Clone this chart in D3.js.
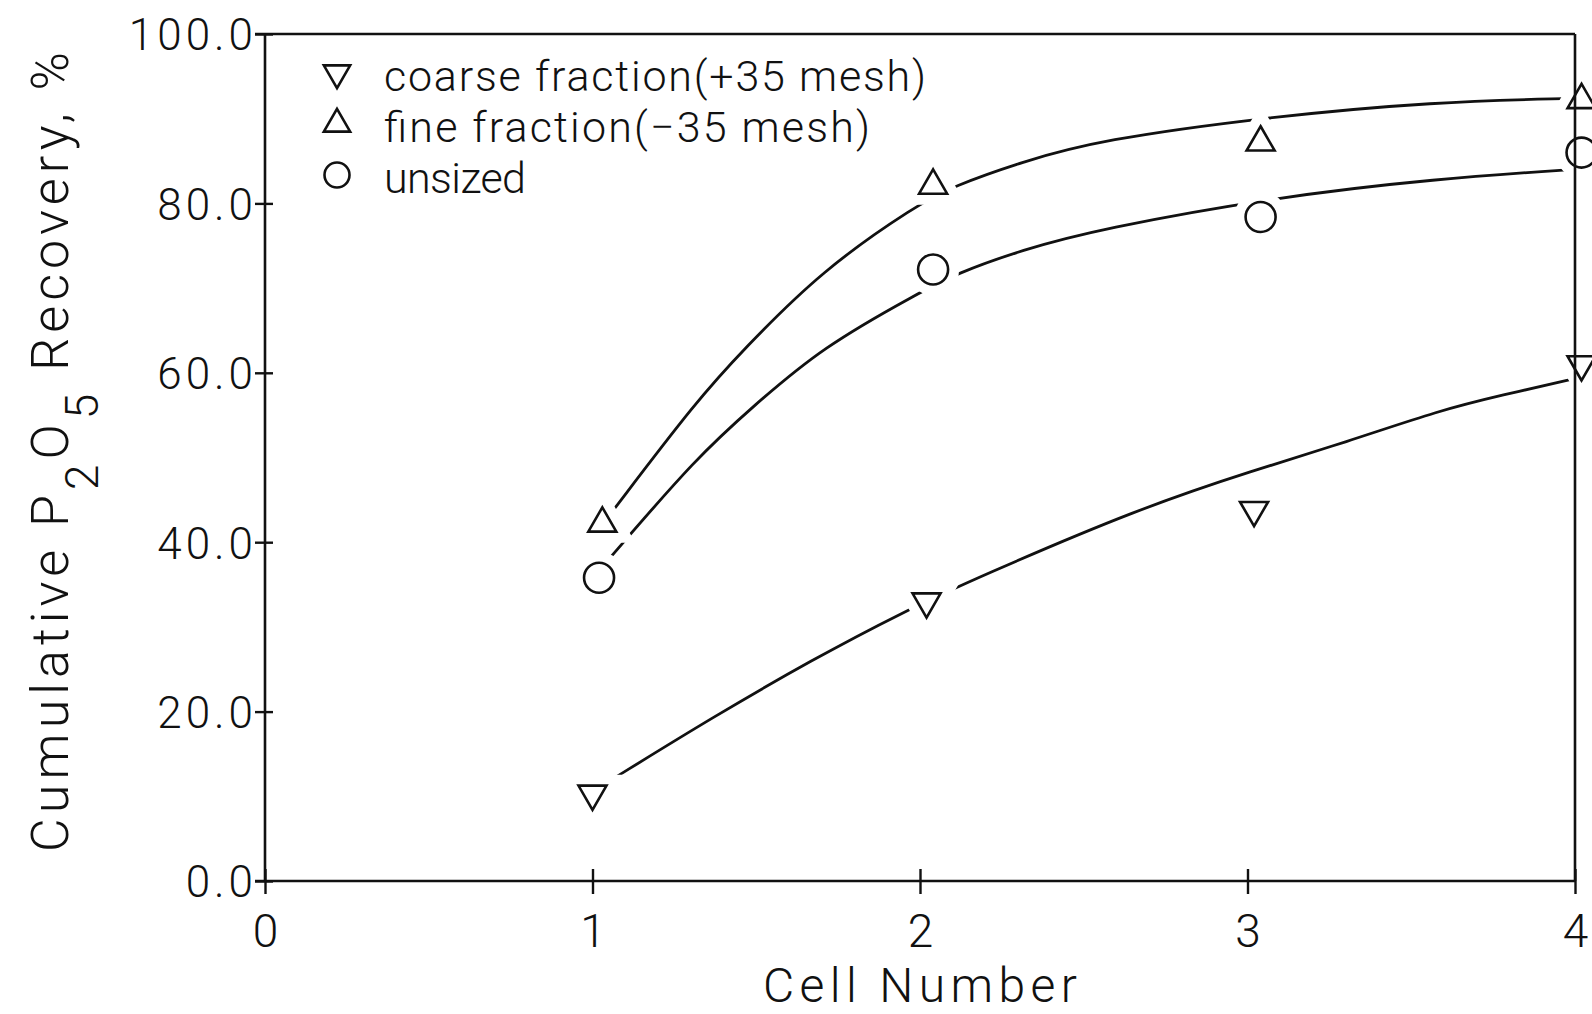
<!DOCTYPE html>
<html>
<head>
<meta charset="utf-8">
<script src="https://cdn.jsdelivr.net/npm/d3@7"></script>
<style>
  html, body { margin: 0; padding: 0; background: #fff; }
  svg { display: block; }
  text { font-family: Roboto, "Open Sans", sans-serif; font-weight: 300; fill: #111; }
</style>
</head>
<body>
<svg id="chart" width="1592" height="1014"></svg>
<script>
// measured cell positions (markers sit a touch right of the ticks in the scan)
var coarseCell = [1.0, 2.02, 3.02, 4.02];
var coarseRec = [10.3, 33.0, 43.8, 61.0];
var fineCell = [1.03, 2.04, 3.04, 4.02];
var fineRec = [42.2, 82.1, 87.2, 92.2];
var unsizedCell = [1.02, 2.04, 3.04, 4.02];
var unsizedRec = [35.8, 72.2, 78.4, 86.0];

// hand-drawn fit curves
var coarseFitX = [1.06, 1.37, 1.67, 1.95, 2.18, 2.67, 3.02, 3.30, 3.59, 3.77, 4.02];
var coarseFitY = [12.0, 19.4, 26.1, 31.8, 35.9, 44.0, 48.5, 51.8, 55.6, 57.3, 59.5];
var fineFitX = [1.06, 1.32, 1.46, 1.70, 1.99, 2.10, 2.31, 2.55, 3.06, 3.57, 4.0];
var fineFitY = [43.6, 56.8, 62.7, 72.1, 79.8, 82.0, 84.9, 87.5, 90.2, 92.0, 92.4];
var unsizedFitX = [1.05, 1.32, 1.49, 1.70, 2.0, 2.11, 2.31, 2.55, 3.08, 3.57, 4.03];
var unsizedFitY = [38.0, 50.1, 56.0, 63.0, 69.5, 71.7, 74.5, 77.0, 80.7, 82.9, 84.1];

var xTicks = [0, 1, 2, 3, 4];
var yTicks = [0, 20, 40, 60, 80, 100];
var legendLabels = ["coarse fraction(+35 mesh)", "fine fraction(\u221235 mesh)", "unsized"];

var svg = d3.select('#chart');
svg.append('rect').attr('width', 1592).attr('height', 1014).attr('fill', '#fff');

var x = d3.scaleLinear().domain([0, 4]).range([265, 1575]);
var y = d3.scaleLinear().domain([0, 100]).range([881, 34]);

var ink = '#111';
var font = 'Roboto, "Open Sans", sans-serif';

// frame
var frame = svg.append('g').attr('stroke', ink).attr('stroke-width', 2.6).attr('fill', 'none');
frame.append('line').attr('x1', x(0) - 10).attr('x2', x(4)).attr('y1', y(100)).attr('y2', y(100));
frame.append('line').attr('x1', x(0)).attr('x2', x(0)).attr('y1', y(100)).attr('y2', y(0));
frame.append('line').attr('x1', x(0) - 10).attr('x2', x(4)).attr('y1', y(0)).attr('y2', y(0));

// y axis
var yAxis = svg.append('g')
  .attr('transform', 'translate(' + x(0) + ',0)')
  .call(d3.axisLeft(y).tickValues(yTicks).tickSize(10).tickFormat(d3.format('.1f')));
yAxis.select('.domain').remove();
yAxis.selectAll('.tick line').attr('x2', -10).attr('x1', 8).attr('stroke', ink).attr('stroke-width', 2.4);
yAxis.selectAll('.tick text')
  .attr('x', -8).attr('dy', '0.36em')
  .attr('fill', ink)
  .style('font-family', font).style('font-weight', 300)
  .style('font-size', '44px').style('letter-spacing', '4px');

// x axis
var xAxis = svg.append('g')
  .attr('transform', 'translate(0,' + y(0) + ')')
  .call(d3.axisBottom(x).tickValues(xTicks).tickSize(12).tickFormat(d3.format('d')));
xAxis.select('.domain').remove();
xAxis.selectAll('.tick line').attr('y1', -12).attr('y2', 13).attr('stroke', ink).attr('stroke-width', 2.4);
xAxis.selectAll('.tick text')
  .attr('y', 66).attr('dy', 0)
  .attr('fill', ink)
  .style('font-family', font).style('font-weight', 300)
  .style('font-size', '46px');

// axis titles
svg.append('text')
  .attr('x', x(2)).attr('y', 1002)
  .attr('text-anchor', 'middle')
  .attr('font-size', 48)
  .attr('textLength', 314).attr('lengthAdjust', 'spacing')
  .text('Cell Number');

var yt = svg.append('text')
  .attr('transform', 'translate(68,452) rotate(-90)')
  .attr('text-anchor', 'middle')
  .attr('font-size', 52)
  .attr('textLength', 800).attr('lengthAdjust', 'spacing');
yt.append('tspan').text('Cumulative P');
yt.append('tspan').attr('dy', 30).attr('font-size', 46).text('2');
yt.append('tspan').attr('dy', -30).text('O');
yt.append('tspan').attr('dy', 30).attr('font-size', 46).text('5');
yt.append('tspan').attr('dy', -30).text(' Recovery, %');

// series
var series = [
  { key: 'coarse', cell: coarseCell, rec: coarseRec, fx: coarseFitX, fy: coarseFitY, shape: 'down' },
  { key: 'fine', cell: fineCell, rec: fineRec, fx: fineFitX, fy: fineFitY, shape: 'up' },
  { key: 'unsized', cell: unsizedCell, rec: unsizedRec, fx: unsizedFitX, fy: unsizedFitY, shape: 'circle' }
];

var line = d3.line()
  .x(function (d) { return x(d[0]); })
  .y(function (d) { return y(d[1]); })
  .curve(d3.curveBasis);

svg.append('g').selectAll('path.fit')
  .data(series)
  .enter()
  .append('path')
  .classed('fit', true)
  .attr('d', function (d) { return line(d3.zip(d.fx, d.fy)); })
  .attr('fill', 'none')
  .attr('stroke', ink)
  .attr('stroke-width', 2.8);

var tri = d3.symbol().type(d3.symbolTriangle).size(340);
var circ = d3.symbol().type(d3.symbolCircle).size(Math.PI * 15 * 15);
function shapePath(s) { return s === 'circle' ? circ() : tri(); }
function shapeRot(s) { return s === 'down' ? ' rotate(180)' : ''; }

var pts = [];
series.forEach(function (s) {
  s.cell.forEach(function (c, i) { pts.push({ cell: c, rec: s.rec[i], shape: s.shape }); });
});

// white halo so the fitted lines break around the markers
var marks = svg.append('g');
marks.selectAll('path.halo')
  .data(pts)
  .enter()
  .append('path')
  .classed('halo', true)
  .attr('d', function (d) { return shapePath(d.shape); })
  .attr('transform', function (d) { return 'translate(' + x(d.cell) + ',' + y(d.rec) + ')' + shapeRot(d.shape); })
  .attr('fill', '#fff')
  .attr('stroke', '#fff')
  .attr('stroke-width', 22);
marks.selectAll('path.mark')
  .data(pts)
  .enter()
  .append('path')
  .classed('mark', true)
  .attr('d', function (d) { return shapePath(d.shape); })
  .attr('transform', function (d) { return 'translate(' + x(d.cell) + ',' + y(d.rec) + ')' + shapeRot(d.shape); })
  .attr('fill', 'none')
  .attr('stroke', ink)
  .attr('stroke-width', 2.6);

// right frame edge drawn over the halos
svg.append('line').attr('x1', x(4)).attr('x2', x(4)).attr('y1', y(100)).attr('y2', y(0))
  .attr('stroke', ink).attr('stroke-width', 2.6);

// legend
var legend = svg.append('g').attr('transform', 'translate(337,73)');
var lg = legend.selectAll('g')
  .data(series)
  .enter()
  .append('g')
  .attr('transform', function (d, i) { return 'translate(0,' + i * 51 + ')'; });
lg.append('path')
  .attr('d', function (d) { return d.shape === 'circle' ? d3.symbol().type(d3.symbolCircle).size(Math.PI * 12.5 * 12.5)() : d3.symbol().type(d3.symbolTriangle).size(300)(); })
  .attr('transform', function (d) { return d.shape === 'down' ? 'rotate(180)' : ''; })
  .attr('fill', 'none')
  .attr('stroke', ink)
  .attr('stroke-width', 2.6);
var widths = [542, 486, 142];
lg.append('text')
  .attr('x', 47)
  .attr('y', 18)
  .attr('font-size', 43)
  .attr('textLength', function (d, i) { return widths[i]; })
  .attr('lengthAdjust', 'spacing')
  .text(function (d, i) { return legendLabels[i]; });
</script>
</body>
</html>
